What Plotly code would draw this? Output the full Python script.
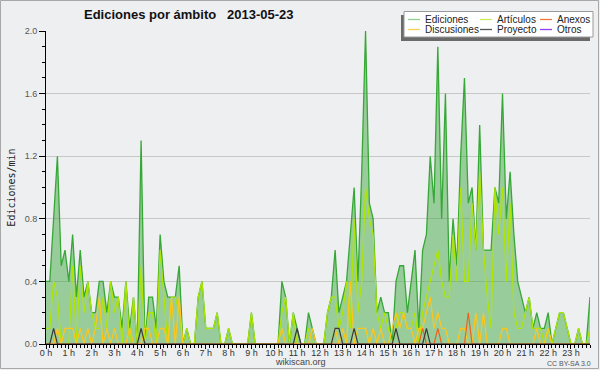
import pandas as pd
import plotly.graph_objects as go

# ---- data (edits per minute, 10-minute buckets, 2013-05-23) ----
times = pd.date_range("2013-05-23 00:00", periods=144, freq="10min")

ediciones = [
    0.4, 0.4, 0.8, 1.2, 0.5, 0.6, 0.4, 0.7, 0.3, 0.6, 0.3, 0.4,
    0.2, 0.2, 0.4, 0.4, 0.2, 0.4, 0.3, 0.3, 0.1, 0.4, 0.1, 0.3,
    0.0, 1.3, 0.0, 0.3, 0.3, 0.1, 0.7, 0.4, 0.3, 0.3, 0.3, 0.5,
    0.0, 0.1, 0.0, 0.0, 0.3, 0.4, 0.1, 0.1, 0.1, 0.2, 0.0, 0.0,
    0.1, 0.0, 0.0, 0.0, 0.0, 0.0, 0.2, 0.0, 0.0, 0.0, 0.0, 0.0,
    0.0, 0.0, 0.4, 0.3, 0.0, 0.2, 0.1, 0.0, 0.0, 0.2, 0.1, 0.0,
    0.0, 0.0, 0.2, 0.3, 0.6, 0.2, 0.3, 0.4, 0.7, 1.0, 0.4, 1.1,
    2.0, 0.9, 0.8, 0.2, 0.3, 0.2, 0.2, 0.0, 0.4, 0.5, 0.5, 0.2,
    0.4, 0.6, 0.1, 0.6, 0.7, 1.2, 0.9, 1.9, 0.8, 1.6, 0.4, 0.8,
    0.5, 1.2, 1.7, 0.9, 1.0, 0.6, 1.4, 0.6, 0.6, 0.6, 1.0, 0.9,
    1.6, 0.8, 1.1, 0.7, 0.4, 0.3, 0.2, 0.3, 0.1, 0.2, 0.1, 0.1,
    0.2, 0.0, 0.1, 0.2, 0.2, 0.1, 0.0, 0.0, 0.1, 0.0, 0.0, 0.3,
]
articulos = [
    0.1, 0.1, 0.4, 0.3, 0.0, 0.0, 0.0, 0.5, 0.0, 0.5, 0.2, 0.4,
    0.2, 0.1, 0.1, 0.3, 0.1, 0.4, 0.2, 0.3, 0.0, 0.4, 0.0, 0.3,
    0.0, 0.5, 0.0, 0.2, 0.2, 0.0, 0.6, 0.3, 0.0, 0.3, 0.3, 0.2,
    0.0, 0.1, 0.0, 0.0, 0.3, 0.4, 0.1, 0.1, 0.1, 0.2, 0.0, 0.0,
    0.1, 0.0, 0.0, 0.0, 0.0, 0.0, 0.2, 0.0, 0.0, 0.0, 0.0, 0.0,
    0.0, 0.0, 0.2, 0.3, 0.0, 0.2, 0.0, 0.0, 0.0, 0.1, 0.0, 0.0,
    0.0, 0.0, 0.2, 0.3, 0.3, 0.1, 0.2, 0.4, 0.1, 0.8, 0.2, 0.4,
    1.0, 0.8, 0.7, 0.2, 0.1, 0.2, 0.1, 0.0, 0.1, 0.2, 0.2, 0.1,
    0.1, 0.2, 0.0, 0.2, 0.3, 0.4, 0.5, 0.6, 0.4, 0.3, 0.3, 0.7,
    0.4, 1.0, 0.4, 0.4, 0.9, 0.6, 1.1, 0.6, 0.3, 0.1, 1.0, 0.7,
    1.0, 0.4, 0.9, 0.2, 0.1, 0.1, 0.2, 0.3, 0.1, 0.1, 0.1, 0.0,
    0.1, 0.0, 0.1, 0.2, 0.2, 0.1, 0.0, 0.0, 0.1, 0.0, 0.0, 0.1,
]
discusiones = [
    0.0, 0.0, 0.0, 0.1, 0.0, 0.1, 0.1, 0.1, 0.0, 0.1, 0.0, 0.1,
    0.0, 0.1, 0.3, 0.0, 0.1, 0.0, 0.1, 0.0, 0.0, 0.0, 0.1, 0.0,
    0.0, 0.0, 0.1, 0.1, 0.0, 0.0, 0.1, 0.1, 0.0, 0.3, 0.0, 0.3,
    0.0, 0.0, 0.0, 0.0, 0.0, 0.0, 0.0, 0.0, 0.0, 0.0, 0.0, 0.0,
    0.0, 0.0, 0.0, 0.0, 0.0, 0.0, 0.0, 0.0, 0.0, 0.0, 0.0, 0.0,
    0.0, 0.0, 0.1, 0.0, 0.0, 0.0, 0.0, 0.0, 0.0, 0.0, 0.1, 0.0,
    0.0, 0.0, 0.0, 0.0, 0.1, 0.0, 0.1, 0.0, 0.4, 0.0, 0.1, 0.1,
    0.1, 0.0, 0.1, 0.0, 0.1, 0.0, 0.0, 0.1, 0.2, 0.1, 0.2, 0.1,
    0.1, 0.0, 0.1, 0.1, 0.2, 0.3, 0.1, 0.2, 0.1, 0.1, 0.0, 0.0,
    0.0, 0.1, 0.1, 0.0, 0.0, 0.2, 0.0, 0.2, 0.0, 0.0, 0.0, 0.0,
    0.1, 0.1, 0.0, 0.0, 0.0, 0.0, 0.0, 0.0, 0.0, 0.1, 0.0, 0.0,
    0.1, 0.0, 0.0, 0.0, 0.0, 0.0, 0.0, 0.0, 0.0, 0.0, 0.0, 0.0,
]
anexos = [0.0] * 99 + [0.1, 0.0, 0.0, 0.0, 0.1] + [0.0] * 7 + [0.2] + [0.0] * 32
proyecto = [
    0.0, 0.0, 0.1, 0.0, 0.0, 0.0, 0.0, 0.0, 0.0, 0.0, 0.0, 0.0,
    0.0, 0.0, 0.0, 0.0, 0.0, 0.0, 0.0, 0.0, 0.0, 0.0, 0.0, 0.0,
    0.0, 0.1, 0.0, 0.0, 0.0, 0.0, 0.0, 0.0, 0.0, 0.0, 0.0, 0.0,
    0.0, 0.0, 0.0, 0.0, 0.0, 0.0, 0.0, 0.0, 0.0, 0.0, 0.0, 0.0,
    0.0, 0.0, 0.0, 0.0, 0.0, 0.0, 0.0, 0.0, 0.0, 0.0, 0.0, 0.0,
    0.0, 0.0, 0.0, 0.0, 0.0, 0.0, 0.1, 0.0, 0.0, 0.0, 0.0, 0.0,
    0.0, 0.0, 0.0, 0.0, 0.1, 0.1, 0.0, 0.0, 0.0, 0.1, 0.0, 0.0,
    0.0, 0.0, 0.0, 0.0, 0.0, 0.0, 0.0, 0.0, 0.1, 0.0, 0.0, 0.0,
    0.0, 0.0, 0.0, 0.0, 0.1, 0.0, 0.0, 0.0, 0.0, 0.0, 0.0, 0.0,
    0.0, 0.0, 0.0, 0.0, 0.0, 0.0, 0.0, 0.0, 0.0, 0.0, 0.0, 0.0,
    0.0, 0.0, 0.0, 0.0, 0.0, 0.0, 0.0, 0.0, 0.0, 0.0, 0.0, 0.0,
    0.0, 0.0, 0.0, 0.0, 0.0, 0.0, 0.0, 0.0, 0.0, 0.0, 0.0, 0.0,
]
otros = [0.0] * 144

legend_names = ["Ediciones", "Artículos", "Anexos", "Discusiones", "Proyecto", "Otros"]
title_text = "Ediciones por ámbito\u00a0\u00a0 2013-05-23"

# ---- layout geometry ----
W, H = 600, 370
L, R, T, B = 46, 10, 31, 26
PW, PH = W - L - R, H - T - B


def px(x):
    return (x - L) / PW


def py(y):
    return (H - B - y) / PH


BG = "#eeeff1"
FONT = "Liberation Sans, Arial, sans-serif"

line_colors = {
    "Ediciones": "#36a836",
    "Artículos": "#aee600",
    "Discusiones": "#ffc61a",
    "Anexos": "#f0601e",
    "Proyecto": "#3a3a3a",
    "Otros": "#9933ff",
}
legend_colors = {
    "Ediciones": "#8fd18f",
    "Artículos": "#c8ec5a",
    "Anexos": "#f07840",
    "Discusiones": "#fcd050",
    "Proyecto": "#555555",
    "Otros": "#9040f0",
}

fig = go.Figure()
fig.add_trace(go.Scatter(x=times, y=otros, name="Otros", mode="lines",
                         line=dict(color=line_colors["Otros"], width=1.2), showlegend=False))
fig.add_trace(go.Scatter(x=times, y=ediciones, name="Ediciones", mode="lines",
                         fill="tozeroy", fillcolor="rgba(60,165,60,0.48)",
                         line=dict(color=line_colors["Ediciones"], width=1.3), showlegend=False))
fig.add_trace(go.Scatter(x=times, y=articulos, name="Artículos", mode="lines",
                         line=dict(color=line_colors["Artículos"], width=1.2), showlegend=False))
fig.add_trace(go.Scatter(x=times, y=discusiones, name="Discusiones", mode="lines",
                         line=dict(color=line_colors["Discusiones"], width=1.2), showlegend=False))
fig.add_trace(go.Scatter(x=times, y=anexos, name="Anexos", mode="lines",
                         line=dict(color=line_colors["Anexos"], width=1.2), showlegend=False))
fig.add_trace(go.Scatter(x=times, y=proyecto, name="Proyecto", mode="lines",
                         line=dict(color=line_colors["Proyecto"], width=1.2), showlegend=False))

shapes = []
annotations = []

# outer frame
shapes.append(dict(type="rect", xref="paper", yref="paper",
                   x0=px(0.5), x1=px(598.5), y0=py(0.5), y1=py(368.5),
                   line=dict(color="#a8a8a8", width=1), fillcolor="rgba(0,0,0,0)", layer="below"))

# custom legend box with shadow
shapes.append(dict(type="rect", xref="paper", yref="paper",
                   x0=px(401), x1=px(590), y0=py(41), y1=py(15),
                   line=dict(width=0), fillcolor="#6a6a6a", layer="above"))
shapes.append(dict(type="rect", xref="paper", yref="paper",
                   x0=px(404), x1=px(593), y0=py(37), y1=py(11.5),
                   line=dict(color="#9a9a9a", width=1), fillcolor="#ffffff", layer="above"))
col_line_x = [408, 480, 540]
col_text_x = [423, 495, 555]
row_y = [19.5, 29.5]
for k, name in enumerate(legend_names):
    r, c = divmod(k, 3)
    shapes.append(dict(type="line", xref="paper", yref="paper",
                       x0=px(col_line_x[c]), x1=px(col_line_x[c] + 12),
                       y0=py(row_y[r]), y1=py(row_y[r]),
                       line=dict(color=legend_colors[name], width=1.3), layer="above"))
    annotations.append(dict(text=name, xref="paper", yref="paper",
                            x=px(col_text_x[c]), y=py(row_y[r]), xanchor="left", yanchor="middle",
                            showarrow=False, font=dict(family=FONT, size=10, color="#222222")))

# title and credits
annotations.append(dict(text="<b>" + title_text + "</b>", xref="paper", yref="paper",
                        x=px(188.5), y=py(14), xanchor="center", yanchor="middle", showarrow=False,
                        font=dict(family=FONT, size=13, color="#111111")))
annotations.append(dict(text="wikiscan.org", xref="paper", yref="paper",
                        x=px(300.5), y=py(362), xanchor="center", yanchor="middle", showarrow=False,
                        font=dict(family=FONT, size=9, color="#444444")))
annotations.append(dict(text="CC BY-SA 3.0", xref="paper", yref="paper",
                        x=px(569), y=py(363), xanchor="center", yanchor="middle", showarrow=False,
                        font=dict(family=FONT, size=7, color="#555555")))

fig.update_layout(
    width=W, height=H,
    margin=dict(l=L, r=R, t=T, b=B, pad=0),
    paper_bgcolor=BG, plot_bgcolor=BG,
    showlegend=False,
    shapes=shapes, annotations=annotations,
    xaxis=dict(
        type="date",
        range=[times[0], times[-1]],
        tick0=times[0], dtick=3600000,
        tickformat="%-H h",
        ticks="outside", ticklen=4, tickcolor="#000000", tickwidth=1,
        ticklabelstandoff=-4,
        minor=dict(dtick=600000, ticks="outside", ticklen=3, tickcolor="#000000"),
        showgrid=False, zeroline=False,
        showline=True, linecolor="#000000", linewidth=1,
        tickfont=dict(family=FONT, size=9, color="#333333"),
        fixedrange=True, automargin=False,
    ),
    yaxis=dict(
        range=[0, 2.0],
        tick0=0, dtick=0.4, tickformat=".1f",
        ticks="outside", ticklen=6, tickcolor="#000000", tickwidth=1,
        minor=dict(dtick=0.1, ticks="outside", ticklen=3, tickcolor="#000000", showgrid=False),
        showgrid=True, gridcolor="#c8c8c8", gridwidth=1,
        zeroline=False,
        showline=True, linecolor="#000000", linewidth=1,
        tickfont=dict(family=FONT, size=9, color="#555555"),
        title=dict(text="Ediciones/min", standoff=7,
                   font=dict(family="DejaVu Sans Mono, monospace", size=10, color="#222222")),
        fixedrange=True, automargin=False,
    ),
)

fig.write_html("out.html", config={"displayModeBar": False},
               post_script="document.body.style.margin='0';")
